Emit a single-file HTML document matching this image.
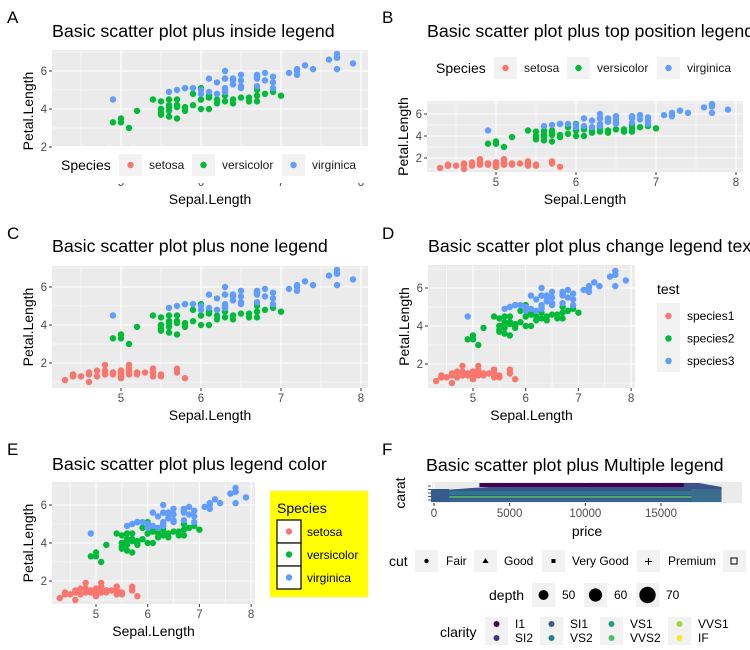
<!DOCTYPE html>
<html><head><meta charset="utf-8"><style>
body{margin:0;background:#fff;}
svg{display:block;font-family:"Liberation Sans",sans-serif;}
</style></head><body>
<svg id="root" width="750" height="650" viewBox="0 0 750 650"></svg>
<script>
const setosaSL=[5.1,4.9,4.7,4.6,5.0,5.4,4.6,5.0,4.4,4.9,5.4,4.8,4.8,4.3,5.8,5.7,5.4,5.1,5.7,5.1,5.4,5.1,4.6,5.1,4.8,5.0,5.0,5.2,5.2,4.7,4.8,5.4,5.2,5.5,4.9,5.0,5.5,4.9,4.4,5.1,5.0,4.5,4.4,5.0,5.1,4.8,5.1,4.6,5.3,5.0];
const setosaPL=[1.4,1.4,1.3,1.5,1.4,1.7,1.4,1.5,1.4,1.5,1.5,1.6,1.4,1.1,1.2,1.5,1.3,1.4,1.7,1.5,1.7,1.5,1.0,1.7,1.9,1.6,1.6,1.5,1.4,1.6,1.6,1.5,1.5,1.4,1.5,1.2,1.3,1.4,1.3,1.5,1.3,1.3,1.3,1.6,1.9,1.4,1.6,1.4,1.5,1.4];
const versiSL=[7.0,6.4,6.9,5.5,6.5,5.7,6.3,4.9,6.6,5.2,5.0,5.9,6.0,6.1,5.6,6.7,5.6,5.8,6.2,5.6,5.9,6.1,6.3,6.1,6.4,6.6,6.8,6.7,6.0,5.7,5.5,5.5,5.8,6.0,5.4,6.0,6.7,6.3,5.6,5.5,5.5,6.1,5.8,5.0,5.6,5.7,5.7,6.2,5.1,5.7];
const versiPL=[4.7,4.5,4.9,4.0,4.6,4.5,4.7,3.3,4.6,3.9,3.5,4.2,4.0,4.7,3.6,4.4,4.5,4.1,4.5,3.9,4.8,4.0,4.9,4.7,4.3,4.4,4.8,5.0,4.5,3.5,3.8,3.7,3.9,5.1,4.5,4.5,4.7,4.4,4.1,4.0,4.4,4.6,4.0,3.3,4.2,4.2,4.2,4.3,3.0,4.1];
const virgSL=[6.3,5.8,7.1,6.3,6.5,7.6,4.9,7.3,6.7,7.2,6.5,6.4,6.8,5.7,5.8,6.4,6.5,7.7,7.7,6.0,6.9,5.6,7.7,6.3,6.7,7.2,6.2,6.1,6.4,7.2,7.4,7.9,6.4,6.3,6.1,7.7,6.3,6.4,6.0,6.9,6.7,6.9,5.8,6.8,6.7,6.7,6.3,6.5,6.2,5.9];
const virgPL=[6.0,5.1,5.9,5.6,5.8,6.6,4.5,6.3,5.8,6.1,5.1,5.3,5.5,5.0,5.1,5.3,5.5,6.7,6.9,5.0,5.7,4.9,6.7,4.9,5.7,6.0,4.8,4.9,5.6,5.8,6.1,6.4,5.6,5.1,5.6,6.1,5.6,5.5,4.8,5.4,5.6,5.1,5.1,5.9,5.7,5.2,5.0,5.2,5.4,5.1];
const xTicks=[5,6,7,8];
const yTicks=[2,4,6];
const priceTicks=[0,5000,10000,15000];
const depthLevels=[50,60,70];
const clarityLevels=["I1","SI2","SI1","VS2","VS1","VVS2","VVS1","IF"];
const cutLevels=["Fair","Good","Very Good","Premium"];

const NS="http://www.w3.org/2000/svg";
const root=document.getElementById('root');
const COLS=["#F8766D","#00BA38","#619CFF"];
function el(tag,attrs,parent,text){const e=document.createElementNS(NS,tag);for(const k in attrs)e.setAttribute(k,attrs[k]);if(text!==undefined)e.textContent=text;(parent||root).appendChild(e);return e;}

function panel(c){
  const g=el('g',{});
  
  
  const sx=v=>c.x5+(v-5)*c.xu, sy=v=>c.y6-(v-6)*c.yu;
  const bg=el('rect',{x:c.L,y:c.T,width:c.R-c.L,height:c.B-c.T,fill:'#EBEBEB'},g);
  
  [4.5,5.5,6.5,7.5].forEach(v=>el('line',{x1:sx(v),x2:sx(v),y1:c.T,y2:c.B,stroke:'#fff','stroke-width':0.55},g));
  [1,3,5,7].forEach(v=>{const y=sy(v);if(y>c.T&&y<c.B)el('line',{x1:c.L,x2:c.R,y1:y,y2:y,stroke:'#fff','stroke-width':0.55},g);});
  xTicks.forEach(v=>{el('line',{x1:sx(v),x2:sx(v),y1:c.T,y2:c.B,stroke:'#fff','stroke-width':1.1},g);
    el('line',{x1:sx(v),x2:sx(v),y1:c.B,y2:c.B+3,stroke:'#333','stroke-width':1},g);
    const t=el('text',{x:sx(v),y:c.B+14,'text-anchor':'middle','font-size':11.5,fill:'#4D4D4D'},g,String(v));
    });
  yTicks.forEach(v=>{el('line',{x1:c.L,x2:c.R,y1:sy(v),y2:sy(v),stroke:'#fff','stroke-width':1.1},g);
    el('line',{x1:c.L-3,x2:c.L,y1:sy(v),y2:sy(v),stroke:'#333','stroke-width':1},g);
    const t=el('text',{x:c.L-5,y:sy(v)+4,'text-anchor':'end','font-size':11.5,fill:'#4D4D4D'},g,String(v));
    });
  const series=[[setosaSL,setosaPL],[versiSL,versiPL],[virgSL,virgPL]];
  series.forEach((s,i)=>s[0].forEach((xv,j)=>{const p=el('circle',{cx:sx(xv),cy:sy(s[1][j]),r:3.2,fill:COLS[i]},g);
    }));
  const xt=el('text',{x:(c.L+c.R)/2,y:c.B+32,'text-anchor':'middle','font-size':14},g,'Sepal.Length');
  
  const cy=(c.T+c.B)/2;
  const yt=el('text',{x:c.L-19,y:cy,'text-anchor':'middle','font-size':14,transform:`rotate(-90 ${c.L-19} ${cy})`},g,'Petal.Length');
  
  const tt=el('text',{x:c.L,y:c.titleY,'font-size':17.8},g,c.title);
  
  const tg=el('text',{x:c.tagX,y:c.tagY,'font-size':17},g,c.tag);
  
  return g;
}
function hLegend(x0,y0,w,h,keys,bgWhite){
  const g=el('g',{});
  
  
  if(bgWhite)el('rect',{x:x0,y:y0,width:w,height:h,fill:'#fff'},g);
  const cy=keys.cy;
  el('text',{x:keys.tx,y:cy+5,'font-size':14},g,'Species');
  const names=["setosa","versicolor","virginica"];
  names.forEach((n,i)=>{const kx=keys.kx[i];
    el('rect',{x:kx,y:cy-11,width:23,height:22,fill:'#F2F2F2'},g);
    const d=el('circle',{cx:kx+11.5,cy:cy,r:3.2,fill:COLS[i]},g);
    
    const t=el('text',{x:kx+30,y:cy+4,'font-size':12,fill:'#1a1a1a'},g,n);
    });
}
// A
panel({name:'panel-a',tag:'A',tagX:7,tagY:23,titleY:37,title:'Basic scatter plot plus inside legend',L:52,R:368,T:50,B:172,x5:121,xu:80,y6:71,yu:19});
hLegend(52,146,316,37,{cy:165,tx:61,kx:[119,192,282]},true);
// B
panel({name:'panel-b',tag:'B',tagX:382,tagY:23,titleY:37,title:'Basic scatter plot plus top position legend',L:427,R:743,T:101,B:172,x5:496,xu:80,y6:114,yu:11});
hLegend(0,0,0,0,{cy:68,tx:436,kx:[494,567,657]},false);
// C
panel({name:'panel-c',tag:'C',tagX:7,tagY:239,titleY:252,title:'Basic scatter plot plus none legend',L:52,R:368,T:266,B:388,x5:121,xu:80,y6:287,yu:19});
// D
panel({name:'panel-d',tag:'D',tagX:382,tagY:239,titleY:252,title:'Basic scatter plot plus change legend text',L:428,R:635,T:265,B:388,x5:473,xu:52.7,y6:288,yu:19});
(function(){const g=el('g',{});
  el('text',{x:657,y:294,'font-size':14},g,'test');
  el('rect',{x:657,y:303,width:23,height:69,fill:'#F2F2F2'},g);
  ["species1","species2","species3"].forEach((n,i)=>{const y=316+i*22.5;
    el('circle',{cx:668.5,cy:y,r:3.2,fill:COLS[i]},g);
    const t=el('text',{x:687,y:y+4,'font-size':12},g,n);});})();
// E
panel({name:'panel-e',tag:'E',tagX:7,tagY:455,titleY:470,title:'Basic scatter plot plus legend color',L:52,R:255,T:482,B:604,x5:96,xu:51.7,y6:505,yu:19});
(function(){const g=el('g',{});
  el('rect',{x:270,y:491,width:98,height:106,fill:'#FFFF00'},g);
  el('text',{x:277,y:513,'font-size':14},g,'Species');
  ["setosa","versicolor","virginica"].forEach((n,i)=>{const y=520+i*23;
    el('rect',{x:277,y:y,width:24,height:23,fill:'#fff',stroke:'#000','stroke-width':1.2},g);
    el('circle',{cx:289,cy:y+11.5,r:3.2,fill:COLS[i]},g);
    const t=el('text',{x:307,y:y+16,'font-size':12},g,n);});})();
// F
(function(){const g=el('g',{});
  el('text',{x:382,y:455,'font-size':17},g,'F');
  el('text',{x:426,y:471,'font-size':17.8},g,'Basic scatter plot plus Multiple legend');
  const L=432,R=742,T=482,B=503;
  el('rect',{x:L,y:T,width:R-L,height:B-T,fill:'#EBEBEB'},g);
  const px=v=>434+v*(661-434)/15000;
  priceTicks.forEach(v=>{el('line',{x1:px(v),x2:px(v),y1:T,y2:B,stroke:'#fff','stroke-width':1.1},g);
    el('line',{x1:px(v),x2:px(v),y1:B,y2:B+3,stroke:'#333'},g);
    const t=el('text',{x:px(v),y:B+14,'text-anchor':'middle','font-size':11.5,fill:'#4D4D4D'},g,String(v));});
  for(let i=0;i<5;i++)el('line',{x1:L-4,x2:L-1,y1:486+i*3.5,y2:486+i*3.5,stroke:'#555'},g);
  el('polygon',{points:`${px(-200)},${B-1} ${px(-200)},${B-12} ${px(2500)},${B-15} ${px(6000)},${B-18} ${px(10000)},${B-20} ${px(17500)},${B-20} ${px(19000)},${B-16} ${px(19000)},${B-1}`,fill:'#3B528B'},g);
  el('rect',{x:px(3000),y:B-20,width:px(16500)-px(3000),height:4,fill:'#440154'},g);
  el('rect',{x:px(300),y:B-12,width:px(18800)-px(300),height:4,fill:'#2A788E'},g);
  el('rect',{x:px(1000),y:B-7,width:px(18000)-px(1000),height:2,fill:'#5EC962',opacity:0.7},g);
  el('rect',{x:px(300),y:B-4,width:px(18800)-px(300),height:3,fill:'#31688E'},g);
  el('rect',{x:px(-200),y:B-14,width:px(1000)-px(-200),height:13,fill:'#365C8D'},g);
  el('rect',{x:px(17000),y:B-14,width:px(19000)-px(17000),height:13,fill:'#3B6E8C'},g);
  const ct=el('text',{x:405,y:493,'text-anchor':'middle','font-size':14,transform:'rotate(-90 405 493)'},g,'carat');
  const pt=el('text',{x:587,y:536,'text-anchor':'middle','font-size':14},g,'price');
  el('text',{x:389,y:566,'font-size':14},g,'cut');
  const cutKx=[415,474,542,637];
  const cutTx=[446,504,572,668];
  cutLevels.forEach((n,i)=>{el('rect',{x:cutKx[i],y:550,width:23,height:22,fill:'#F2F2F2'},g);
    const t=el('text',{x:cutTx[i],y:565,'font-size':12},g,n);});
  el('circle',{cx:426.5,cy:561,r:2.2,fill:'#000'},g);
  el('polygon',{points:'485.5,558 482.5,563 488.5,563',fill:'#000'},g);
  el('rect',{x:551.5,y:559,width:4,height:4,fill:'#000'},g);
  el('text',{x:648.5,y:566,'text-anchor':'middle','font-size':14},g,'+');
  el('rect',{x:723,y:550,width:23,height:22,fill:'#F2F2F2'},g);
  el('rect',{x:731,y:558,width:6,height:6,fill:'none',stroke:'#000'},g);
  el('text',{x:489,y:600,'font-size':14},g,'depth');
  const dkx=[532,584,636];
  depthLevels.forEach((v,i)=>{el('rect',{x:dkx[i],y:583,width:23,height:24,fill:'#F2F2F2'},g);
    el('circle',{cx:dkx[i]+11.5,cy:595,r:5+i*1.6,fill:'#000'},g);
    const t=el('text',{x:dkx[i]+30,y:599,'font-size':12},g,String(v));});
  el('text',{x:440,y:637,'font-size':14},g,'clarity');
  const vir=["#440154","#46337E","#365C8D","#277F8E","#1FA187","#4AC16D","#A0DA39","#FDE725"];
  const ckx=[485,540,600,668];
  clarityLevels.forEach((n,i)=>{const col=Math.floor(i/2),row=i%2,kx=ckx[col],y=624+row*14;
    if(row===0)el('rect',{x:kx,y:617,width:23,height:28,fill:'#F2F2F2'},g);
    el('circle',{cx:kx+11.5,cy:y,r:3,fill:vir[i]},g);
    const t=el('text',{x:kx+30,y:y+4,'font-size':12},g,n);});
})();
</script>
</body></html>
